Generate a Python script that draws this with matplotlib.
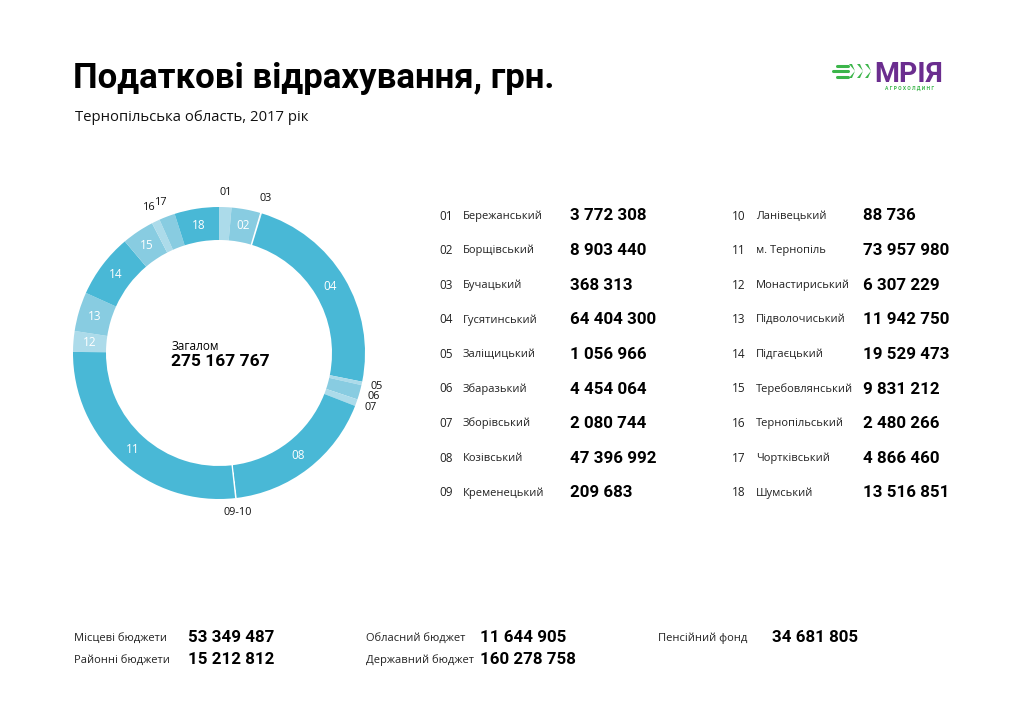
import matplotlib.pyplot as plt
import numpy as np

plt.rcParams['font.family'] = ['Open Sans', 'DejaVu Sans']
BOLD = ['Roboto', 'DejaVu Sans']

# districts and their tax deductions
codes = ["01", "02", "03", "04", "05", "06", "07", "08", "09",
         "10", "11", "12", "13", "14", "15", "16", "17", "18"]
districts = ["Бережанський", "Борщівський", "Бучацький", "Гусятинський",
             "Заліщицький", "Збаразький", "Зборівський", "Козівський",
             "Кременецький", "Ланівецький", "м. Тернопіль", "Монастириський",
             "Підволочиський", "Підгаєцький", "Теребовлянський",
             "Тернопільський", "Чортківський", "Шумський"]
values = [3772308, 8903440, 368313, 64404300, 1056966, 4454064, 2080744,
          47396992, 209683, 88736, 73957980, 6307229, 11942750, 19529473,
          9831212, 2480266, 4866460, 13516851]

budget_labels = ["Місцеві бюджети", "Районні бюджети", "Обласний бюджет",
                 "Державний бюджет", "Пенсійний фонд"]
budget_values = [53349487, 15212812, 11644905, 160278758, 34681805]

DARK = "#49b8d6"
MID = "#88cce1"
LIGHT = "#acdbea"
shade = [LIGHT, MID, DARK, DARK, LIGHT, MID, LIGHT, DARK, DARK,
         DARK, DARK, LIGHT, MID, DARK, MID, LIGHT, MID, DARK]
inside = ["02", "04", "08", "11", "12", "13", "14", "15", "18"]
outside = ["01", "03", "05", "06", "07", "09-10", "16", "17"]


def fmt(v):
    return f"{v:,}".replace(",", " ")


W, H = 1024, 724
fig = plt.figure(figsize=(W / 100, H / 100), dpi=100)
bg = fig.add_axes([0, 0, 1, 1])
bg.set_xlim(0, W)
bg.set_ylim(H, 0)
bg.axis("off")

# title block
bg.text(73, 88, "Податкові відрахування, грн.", fontsize=25, fontweight="bold",
        family=BOLD, color="black", va="baseline")
bg.text(75, 121, "Тернопільська область, 2017 рік", fontsize=10.7,
        color="#111111", va="baseline")

# logo
bg.text(874, 82, "МРІЯ", fontsize=20.5, fontweight="bold", family=BOLD,
        color="#6b2d8f", va="baseline")
bg.text(910, 88.5, "А Г Р О Х О Л Д И Н Г", fontsize=3.6, fontweight="bold",
        family=BOLD, color="#3bb54a", va="center", ha="center")
for yy, x0, x1 in [(65.5, 837, 848), (71, 833, 848), (76.5, 837, 848)]:
    bg.plot([x0, x1], [yy, yy], color="#3bb54a", lw=2.2, solid_capstyle="round")
for lx in [852, 860, 868]:
    bg.fill([lx - 3, lx + 3, lx - 3, lx, lx + 3, lx], [64, 71, 78, 78, 71, 64],
            color="#3bb54a", lw=0)

# donut
cx, cy, R, ring = 219, 353, 146, 33
dax = fig.add_axes([(cx - 175) / W, (H - cy - 175) / H, 350 / W, 350 / H])
wedges, _ = dax.pie(values, colors=shade, startangle=90, counterclock=False,
                    radius=R, wedgeprops=dict(width=ring, linewidth=0))
dax.set_xlim(-175, 175)
dax.set_ylim(-175, 175)
dax.set_aspect("equal")
dax.axis("off")
for w, c in zip(wedges, codes):
    if c in ("03", "09", "10"):
        w.set_edgecolor("white")
        w.set_linewidth(0.8)

total = sum(values)
cum = np.cumsum([0] + values) / total
mids = {c: (cum[i] + cum[i + 1]) / 2 for i, c in enumerate(codes)}
mids["09-10"] = (cum[8] + cum[10]) / 2
for c in inside:
    a = 2 * np.pi * mids[c]
    r = R - ring / 2
    dax.text(r * np.sin(a), r * np.cos(a), c, color="white", fontsize=8.5,
             ha="center", va="center")
for c in outside:
    a = 2 * np.pi * mids[c]
    r = R + 15
    dax.text(r * np.sin(a), r * np.cos(a), c, color="#111111", fontsize=7.8,
             ha="center", va="center")

bg.text(172, 350, "Загалом", fontsize=8.5, va="baseline")
bg.text(171, 366, fmt(total), fontsize=12.5, fontweight="bold", family=BOLD,
        va="baseline")

# district table
row0, step = 216, 34.6
for i, (c, d, v) in enumerate(zip(codes, districts, values)):
    col, r = divmod(i, 9)
    x0 = 439 + col * 293
    y = row0 + r * step
    bg.text(x0, y, c, fontsize=8.5, va="center", color="#222222")
    bg.text(x0 + 24, y, d, fontsize=8, va="center", color="#222222")
    bg.text(x0 + 131, y, fmt(v), fontsize=12.2, fontweight="bold", family=BOLD,
            va="center")

# budgets
bpos = [(74, 638), (74, 660), (366, 638), (366, 660), (658, 638)]
for (x, y), lab, v in zip(bpos, budget_labels, budget_values):
    bg.text(x, y, lab, fontsize=8, va="center", color="#222222")
    bg.text(x + 114, y, fmt(v), fontsize=12.2, fontweight="bold", family=BOLD,
            va="center")

fig.savefig("out.png", dpi=100, facecolor="white")
